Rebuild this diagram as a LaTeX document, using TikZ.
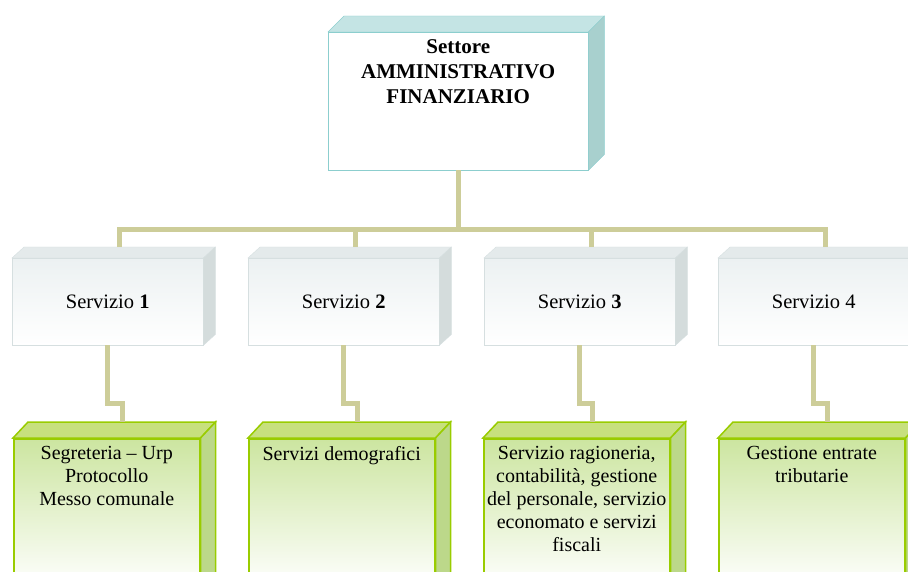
\documentclass[tikz,border=0pt]{standalone}
\usepackage{fontspec}
\setmainfont{Liberation Serif}
\usetikzlibrary{positioning,calc}

\definecolor{lineacol}{RGB}{205,205,153}
\definecolor{tealbordo}{RGB}{140,206,206}
\definecolor{tealtop}{RGB}{196,228,228}
\definecolor{tealside}{RGB}{168,208,206}
\definecolor{grigiobordo}{RGB}{214,223,224}
\definecolor{grigiofronte}{RGB}{236,241,242}
\definecolor{grigiotop}{RGB}{228,234,235}
\definecolor{grigioside}{RGB}{212,220,220}
\definecolor{verdebordo}{RGB}{153,204,0}
\definecolor{verdefronte}{RGB}{204,229,160}
\definecolor{verdetop}{RGB}{199,224,126}
\definecolor{verdeside}{RGB}{188,216,138}

\tikzset{
  linea/.style={draw=lineacol, line width=5pt},
  settore/.style={draw=tealbordo, fill=white, anchor=north west, inner sep=0pt,
    minimum width=260pt, minimum height=138pt},
  titolo/.style={align=center, inner sep=0pt, font=\fontsize{21}{25}\selectfont\bfseries},
  servizio/.style={draw=grigiobordo, top color=grigiofronte, bottom color=white,
    anchor=north west, inner sep=0pt, minimum width=191pt, minimum height=87pt,
    font=\fontsize{20.5}{24}\selectfont},
  ufficio/.style={draw=verdebordo, line width=1.5pt, top color=verdefronte, bottom color=white,
    anchor=north west, inner sep=0pt, minimum width=186pt, minimum height=150pt},
  testo/.style={align=center, inner sep=0pt, font=\fontsize{20}{23}\selectfont}
}

% top and side faces of a box: node, dx, dy, edge, top fill, side fill
\newcommand{\faccecubo}[6]{%
  \draw[#4, fill=#5] (#1.north west) -- ++(#2,-#3) -- ($(#1.north east)+(#2,-#3)$)
    -- (#1.north east) -- cycle;
  \draw[#4, fill=#6] (#1.north east) -- ++(#2,-#3) -- ($(#1.south east)+(#2,-#3)$)
    -- (#1.south east) -- cycle;}

\begin{document}
\begin{tikzpicture}[x=1pt,y=-1pt]
  \useasboundingbox (0,0) rectangle (908,572);
  \clip (0,0) rectangle (908,572);

  % settore
  \node[settore] (settore) at (328,32) {};
  \faccecubo{settore}{16}{16}{tealbordo}{tealtop}{tealside}
  \node[titolo, below=7pt of settore.north] (settore-t)
    {Settore\\AMMINISTRATIVO\\FINANZIARIO};

  % servizi
  \foreach \i/\x/\t in {1/12/{Servizio \textbf{1}}, 2/248/{Servizio \textbf{2}},
      3/484/{Servizio \textbf{3}}, 4/718/{Servizio 4}} {
    \node[servizio] (s\i) at (\x,258) {\t};
    \faccecubo{s\i}{12}{11}{grigiobordo}{grigiotop}{grigioside}
  }

  % uffici
  \foreach \i/\x in {1/13, 2/248, 3/483, 4/718} {
    \node[ufficio] (u\i) at (\x,438) {};
    \faccecubo{u\i}{15}{16}{verdebordo, line width=1.5pt}{verdetop}{verdeside}
  }
  \node[testo, below=8pt of u1.north] (u1-t) {Segreteria -- Urp\\Protocollo\\Messo comunale};
  \node[testo, below=8pt of u2.north] (u2-t) {Servizi demografici};
  \node[testo, below=8pt of u3.north] (u3-t) {Servizio ragioneria,\\contabilità, gestione\\del personale, servizio\\economato e servizi\\fiscali};
  \node[testo, below=8pt of u4.north] (u4-t) {Gestione entrate\\tributarie};

  % connettori
  \foreach \i in {1,...,4} {
    \draw[linea] (settore.south) -- ++(0,59) -| ($(s\i.north)+(12,-11)$);
    \draw[linea] (s\i.south) -- ++(0,58) -| ($(u\i.north)+(16,-16)$);
  }
\end{tikzpicture}
\end{document}
